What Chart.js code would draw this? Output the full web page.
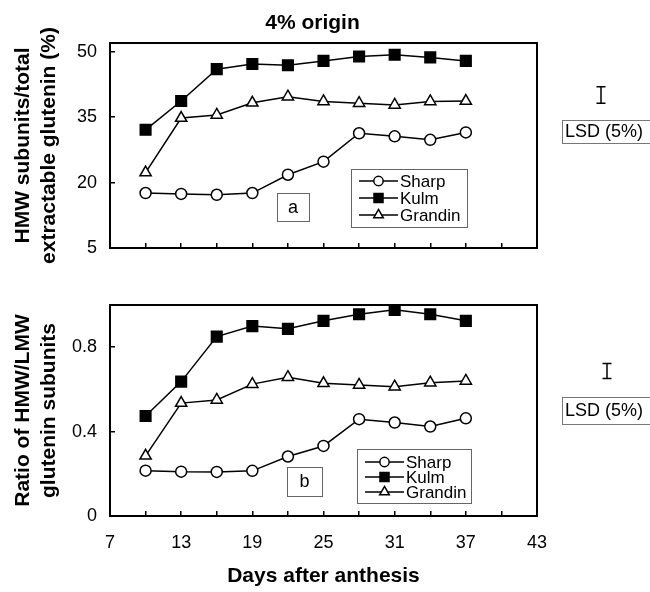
<!DOCTYPE html>
<html>
<head>
<meta charset="utf-8">
<script src="https://cdn.jsdelivr.net/npm/chart.js@4.4.1/dist/chart.umd.min.js"></script>
<style>
  html, body { margin: 0; padding: 0; background: #fff; }
  #wrap { position: relative; width: 650px; height: 592px; overflow: hidden; }
  #title { position: absolute; top: 10px; left: 0; width: 625px; text-align: center;
           font: bold 21px "Liberation Sans", Arial, sans-serif; line-height: 24px; color: #000; }
  #c1 { position: absolute; left: 0; top: 0; }
  #c2 { position: absolute; left: 0; top: 270px; }
</style>
</head>
<body>
<div id="wrap">
  <canvas id="c1" width="650" height="270"></canvas>
  <canvas id="c2" width="650" height="322"></canvas>
  <div id="title">4% origin</div>
</div>
<script>
// Дни после цветения
const days = [10, 13, 16, 19, 22, 25, 28, 31, 34, 37];

// Панель a: HMW subunits / total extractable glutenin (%)
const sharpA   = [17.6, 17.4, 17.2, 17.6, 21.8, 24.8, 31.3, 30.6, 29.8, 31.5];
const kulmA    = [32.1, 38.7, 46.0, 47.2, 46.9, 47.9, 48.9, 49.3, 48.7, 47.9];
const grandinA = [22.3, 34.8, 35.5, 38.3, 39.7, 38.6, 38.2, 37.8, 38.6, 38.7];

// Панель b: ratio of HMW/LMW glutenin subunits
const sharpB   = [0.215, 0.210, 0.209, 0.214, 0.282, 0.332, 0.459, 0.443, 0.424, 0.463];
const kulmB    = [0.474, 0.637, 0.850, 0.900, 0.887, 0.925, 0.956, 0.977, 0.956, 0.925];
const grandinB = [0.285, 0.535, 0.550, 0.625, 0.658, 0.629, 0.621, 0.613, 0.632, 0.640];

// Подписи осей
const xTickLabels = [7, 13, 19, 25, 31, 37, 43];
const yTicksA = [5, 20, 35, 50];
const yTicksB = [0, 0.4, 0.8];

// LSD (5%)
const lsdA = 3.8;
const lsdB = 0.071;

const FONT = '"Liberation Sans", Arial, Helvetica, sans-serif';

function makeSets(sharp, kulm, grandin) {
   const pts = arr => days.map((d, i) => ({ x: d, y: arr[i] }));
   const base = { borderColor: '#000', borderWidth: 1.5, tension: 0, pointBorderColor: '#000', pointBorderWidth: 1.5 };
   return [
      Object.assign({ label: 'Sharp', data: pts(sharp), pointStyle: 'circle', pointRadius: 5.5, pointBackgroundColor: '#fff' }, base),
      Object.assign({ label: 'Kulm', data: pts(kulm), pointStyle: 'rect', pointRadius: 7.5, pointBackgroundColor: '#000' }, base),
      Object.assign({ label: 'Grandin', data: pts(grandin), pointStyle: 'triangle', pointRadius: 6.5, pointBackgroundColor: '#fff' }, base)
   ];
}

// Рамка, легенда, метка панели и LSD
const panelDecor = {
   id: 'panelDecor',
   afterDraw(chart, args, o) {
      const { ctx, chartArea: a } = chart;
      const yScale = chart.scales.y;
      ctx.save();
      ctx.strokeStyle = '#000';
      ctx.lineWidth = 2;
      ctx.strokeRect(a.left, a.top, a.right - a.left, a.bottom - a.top);

      // легенда
      const lg = o.legend;
      ctx.lineWidth = 1;
      ctx.strokeStyle = '#666';
      ctx.strokeRect(lg.x + 0.5, lg.y + 0.5, lg.w, lg.h);
      ctx.font = '17px ' + FONT;
      ctx.textBaseline = 'middle';
      ctx.textAlign = 'left';
      chart.data.datasets.forEach((ds, i) => {
         const y = lg.y + lg.first + i * lg.step;
         const x0 = lg.x + 8;
         ctx.strokeStyle = '#000';
         ctx.lineWidth = 1.5;
         ctx.beginPath();
         ctx.moveTo(x0, y);
         ctx.lineTo(x0 + 39, y);
         ctx.stroke();
         ctx.fillStyle = ds.pointBackgroundColor;
         Chart.helpers.drawPoint(ctx, { pointStyle: ds.pointStyle, radius: ds.pointRadius * 0.85, rotation: 0, borderWidth: 1.5 }, x0 + 19.5, y);
         ctx.fillStyle = '#000';
         ctx.fillText(ds.label, x0 + 41, y + 1);
      });

      // метка панели
      const pl = o.panel;
      ctx.strokeStyle = '#666';
      ctx.lineWidth = 1;
      ctx.strokeRect(pl.x + 0.5, pl.y + 0.5, pl.w, pl.h);
      ctx.fillStyle = '#000';
      ctx.font = '18px ' + FONT;
      ctx.textAlign = 'center';
      ctx.fillText(pl.text, pl.x + pl.w / 2, pl.y + pl.h / 2 + 1);

      // LSD
      const ls = o.lsd;
      const half = (yScale.getPixelForValue(yScale.min) - yScale.getPixelForValue(yScale.min + ls.value)) / 2;
      ctx.strokeStyle = '#000';
      ctx.lineWidth = 1.5;
      ctx.beginPath();
      ctx.moveTo(ls.x, ls.y - half); ctx.lineTo(ls.x, ls.y + half);
      ctx.moveTo(ls.x - 4.5, ls.y - half); ctx.lineTo(ls.x + 4.5, ls.y - half);
      ctx.moveTo(ls.x - 4.5, ls.y + half); ctx.lineTo(ls.x + 4.5, ls.y + half);
      ctx.stroke();
      ctx.strokeStyle = '#777';
      ctx.lineWidth = 1;
      ctx.strokeRect(ls.bx + 0.5, ls.by + 0.5, 100, ls.bh);
      ctx.font = '18px ' + FONT;
      ctx.textAlign = 'left';
      ctx.fillStyle = '#000';
      ctx.fillText('LSD (5%)', ls.bx + 3, ls.by + ls.bh / 2 + 1);
      ctx.restore();
   }
};

function xAxis(showLabels, height) {
   return {
      type: 'linear', min: 7, max: 43,
      ticks: {
         stepSize: 3, autoSkip: false, maxRotation: 0, padding: 21, color: '#000',
         font: { size: 18, family: FONT },
         callback: v => (showLabels && xTickLabels.includes(v)) ? v : ''
      },
      grid: { drawOnChartArea: false, tickLength: -5, color: '#000', lineWidth: 1.5 },
      border: { color: '#000', width: 2 },
      title: {
         display: showLabels, text: 'Days after anthesis', color: '#000',
         font: { size: 21, weight: 'bold', family: FONT, lineHeight: 1.25 },
         padding: { top: 0, bottom: 3 }
      },
      afterFit: s => { s.height = height; s.paddingLeft = 0; s.paddingRight = 0; }
   };
}

function yAxis(min, max, tickList, titleLines) {
   return {
      min: min, max: max,
      afterBuildTicks: s => { s.ticks = tickList.map(v => ({ value: v })); },
      ticks: { padding: 18, color: '#000', font: { size: 18, family: FONT } },
      grid: { drawOnChartArea: false, tickLength: -5, color: '#000', lineWidth: 1.5 },
      border: { color: '#000', width: 2 },
      title: {
         display: true, text: titleLines, color: '#000',
         font: { size: 21, weight: 'bold', family: FONT, lineHeight: 1.25 },
         padding: { top: 10, bottom: 0 }
      },
      afterFit: s => { s.width = 110; s.paddingTop = 0; s.paddingBottom = 0; }
   };
}

function commonOptions(padTop, xHeight, showX, ymin, ymax, yt, ytitle, decor) {
   return {
      responsive: false,
      animation: false,
      layout: { padding: { top: padTop, right: 113, bottom: 0, left: 0 } },
      plugins: { legend: { display: false }, tooltip: { enabled: false }, panelDecor: decor },
      scales: { x: xAxis(showX, xHeight), y: yAxis(ymin, ymax, yt, ytitle) }
   };
}

new Chart(document.getElementById('c1'), {
   type: 'line',
   data: { datasets: makeSets(sharpA, kulmA, grandinA) },
   options: commonOptions(43, 22, false, 5, 52, yTicksA, ['HMW subunits/total', 'extractable glutenin (%)'], {
      legend: { x: 351, y: 169, w: 116, h: 58, first: 12, step: 17 },
      panel: { x: 277, y: 193, w: 32, h: 28, text: 'a' },
      lsd: { value: lsdA, x: 601, y: 95, bx: 562, by: 120, bh: 23 }
   }),
   plugins: [panelDecor]
});

new Chart(document.getElementById('c2'), {
   type: 'line',
   data: { datasets: makeSets(sharpB, kulmB, grandinB) },
   options: commonOptions(35, 76, true, 0, 1, yTicksB, ['Ratio of HMW/LMW', 'glutenin subunits'], {
      legend: { x: 357, y: 179, w: 114, h: 54, first: 13, step: 15 },
      panel: { x: 287, y: 197, w: 35, h: 29, text: 'b' },
      lsd: { value: lsdB, x: 607, y: 101, bx: 562, by: 127, bh: 27 }
   }),
   plugins: [panelDecor]
});
</script>
</body>
</html>
